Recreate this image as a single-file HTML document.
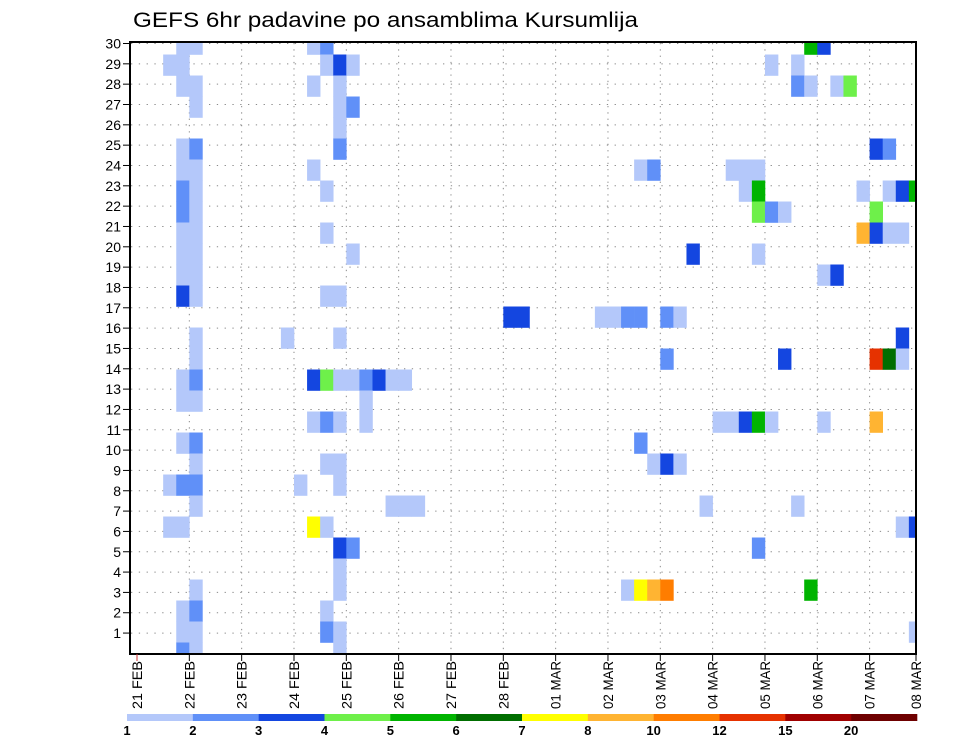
<!DOCTYPE html>
<html><head><meta charset="utf-8"><style>
html,body{margin:0;padding:0;background:#fff;}
svg{display:block;font-family:"Liberation Sans",sans-serif;}
</style></head><body>
<svg id="chart" width="960" height="742" viewBox="0 0 960 742" xmlns="http://www.w3.org/2000/svg">
<text x="133" y="27" font-size="21" textLength="505" lengthAdjust="spacingAndGlyphs" fill="#000">GEFS 6hr padavine po ansamblima Kursumlija</text>
<defs><clipPath id="plotclip"><rect x="131" y="43" width="784" height="610"/></clipPath></defs>
<g id="grid"></g>
<g id="cells" clip-path="url(#plotclip)"></g>
<rect x="130" y="42" width="786" height="612" fill="none" stroke="#000" stroke-width="2"/>
<g id="yaxis"></g>
<g id="xaxis"></g>
<g id="cbar"></g>
</svg>
<script>
// ---- data ----
const dayLabels = ["21 FEB","22 FEB","23 FEB","24 FEB","25 FEB","26 FEB","27 FEB","28 FEB","01 MAR","02 MAR","03 MAR","04 MAR","05 MAR","06 MAR","07 MAR","08 MAR"];
const memberTicks = [1,2,3,4,5,6,7,8,9,10,11,12,13,14,15,16,17,18,19,20,21,22,23,24,25,26,27,28,29,30];
const levelBounds = [1,2,3,4,5,6,7,8,10,12,15,20,30];
const levelLabels = ["1","2","3","4","5","6","7","8","10","12","15","20"];
const levelColors = ["#b4c8fa","#6090f8","#1446e0","#6ef04a","#00b400","#006e00","#ffff00","#ffb432","#ff7d00","#e63200","#a00000","#6e0000"];
// cells: 6-hour step index, ensemble row (0 = top), precipitation value (mm)
const cellStep = [3,4,13,14,51,52, 2,3,14,15,16,48,50, 3,4,13,15,50,51,53,54, 4,15,16, 15, 3,4,15,56,57,
 3,4,13,38,39,45,46,47, 3,4,14,46,47,55,57,58,59, 3,4,47,48,49,56, 3,4,14,55,56,57,58, 3,4,16,42,47,
 3,4,52,53, 3,4,14,15, 28,29,35,36,37,38,40,41, 4,11,15,58, 4,40,49,56,57,58,
 3,4,13,14,15,16,17,18,19,20, 3,4,17, 13,14,15,17,44,45,46,47,48,52,56, 3,4,38, 4,14,15,39,40,41,
 2,3,4,12,15, 4,19,20,21,43,50, 2,3,13,14,58,59, 15,16,47, 15, 4,15,37,38,39,40,51, 3,4,14, 3,4,14,15,59, 3,4,15];
const cellRow = [0,0,0,0,0,0, 1,1,1,1,1,1,1, 2,2,2,2,2,2,2,2, 3,3,3, 4, 5,5,5,5,5,
 6,6,6,6,6,6,6,6, 7,7,7,7,7,7,7,7,7, 8,8,8,8,8,8, 9,9,9,9,9,9,9, 10,10,10,10,10,
 11,11,11,11, 12,12,12,12, 13,13,13,13,13,13,13,13, 14,14,14,14, 15,15,15,15,15,15,
 16,16,16,16,16,16,16,16,16,16, 17,17,17, 18,18,18,18,18,18,18,18,18,18,18, 19,19,19, 20,20,20,20,20,20,
 21,21,21,21,21, 22,22,22,22,22,22, 23,23,23,23,23,23, 24,24,24, 25, 26,26,26,26,26,26,26, 27,27,27, 28,28,28,28,28, 29,29,29];
const cellValue = [1.5,1.5,1.5,2.5,5.5,3.5, 1.5,1.5,1.5,3.5,1.5,1.5,1.5, 1.5,1.5,1.5,1.5,2.5,1.5,1.5,4.5, 1.5,1.5,2.5, 1.5, 1.5,2.5,2.5,3.5,2.5,
 1.5,1.5,1.5,1.5,2.5,1.5,1.5,1.5, 2.5,1.5,1.5,1.5,5.5,1.5,1.5,3.5,5.5, 2.5,1.5,4.5,2.5,1.5,4.5, 1.5,1.5,1.5,9,3.5,1.5,1.5, 1.5,1.5,1.5,3.5,1.5,
 1.5,1.5,1.5,3.5, 3.5,1.5,1.5,1.5, 3.5,3.5,1.5,1.5,2.5,2.5,2.5,1.5, 1.5,1.5,1.5,3.5, 1.5,2.5,3.5,13,6.5,1.5,
 1.5,2.5,3.5,4.5,1.5,1.5,2.5,3.5,1.5,1.5, 1.5,1.5,1.5, 1.5,2.5,1.5,1.5,1.5,1.5,3.5,5.5,1.5,1.5,9, 1.5,2.5,2.5, 1.5,1.5,1.5,1.5,3.5,1.5,
 1.5,2.5,2.5,1.5,1.5, 1.5,1.5,1.5,1.5,1.5,1.5, 1.5,1.5,7.5,1.5,1.5,3.5, 3.5,2.5,2.5, 1.5, 1.5,1.5,1.5,7.5,9,11,5.5, 1.5,2.5,1.5, 1.5,1.5,2.5,1.5,1.5, 2.5,1.5,1.5];

// ---- scales ----
const X0 = 137, DAY = 52.33, STEP = DAY/4;
const xDay = d => X0 + DAY*d;
const xStep = s => X0 + STEP*s;
const yMember = m => 43.5 + (30-m)*20.33;
const yRowCenter = r => 44 + 21*r;
const ROWH = 21;
function colorFor(v){ for(let k=0;k<levelColors.length;k++){ if(v>=levelBounds[k] && v<levelBounds[k+1]) return levelColors[k]; } return levelColors[levelColors.length-1]; }

const NS="http://www.w3.org/2000/svg";
function mk(tag, attrs, parent){ const e=document.createElementNS(NS,tag); for(const k in attrs) e.setAttribute(k,attrs[k]); parent.appendChild(e); return e; }

// grid
const grid=document.getElementById('grid');
memberTicks.forEach(m=>{
  const l=mk('line',{x1:131,x2:915,y1:yMember(m),y2:yMember(m),stroke:'#8a8a8a','stroke-width':1,'stroke-dasharray':'1.3 6.5'},grid);
  
  
});
dayLabels.forEach((lab,d)=>{
  if(d===0||d===15) return;
  const l=mk('line',{x1:xDay(d),x2:xDay(d),y1:43,y2:653,stroke:'#8a8a8a','stroke-width':1,'stroke-dasharray':'1.3 5'},grid);
  
  
});

// cells
const cells=document.getElementById('cells');
for(let n=0;n<cellStep.length;n++){
  const r=mk('rect',{x:xStep(cellStep[n]),y:yRowCenter(cellRow[n])-ROWH/2,width:STEP+0.3,height:ROWH+0.3,fill:colorFor(cellValue[n])},cells);
  
  
}

// y axis
const ya=document.getElementById('yaxis');
memberTicks.forEach(m=>{
  const t=mk('line',{x1:123,x2:130,y1:yMember(m),y2:yMember(m),stroke:'#000','stroke-width':1},ya);
  
  
  const tx=mk('text',{x:121,y:yMember(m)+5,'font-size':14,'text-anchor':'end',fill:'#000'},ya);
  tx.textContent=String(m);
  
  
});

// x axis
const xa=document.getElementById('xaxis');
dayLabels.forEach((lab,d)=>{
  const x = d===15 ? 916 : xDay(d);
  const t=mk('line',{x1:x,x2:x,y1:654,y2:661,stroke:d===0?'#c33':'#000','stroke-width':1},xa);
  
  
  const tx=mk('text',{x:0,y:0,'font-size':14,fill:'#000',transform:`translate(${x+5},709) rotate(-90)`,textLength:48,lengthAdjust:'spacingAndGlyphs'},xa);
  tx.textContent=lab;
  
  
});

// colorbar
const cb=document.getElementById('cbar');
const CB0=127, CBW=(917-127)/levelColors.length;
levelColors.forEach((c,k)=>{
  const r=mk('rect',{x:CB0+CBW*k,y:714,width:CBW+0.3,height:7,fill:c},cb);
  
  
});
levelLabels.forEach((lab,k)=>{
  const tx=mk('text',{x:CB0+CBW*k,y:735,'font-size':13,'font-weight':'bold','text-anchor':'middle',fill:'#000'},cb);
  tx.textContent=lab;
  
  
});
</script>
</body></html>
